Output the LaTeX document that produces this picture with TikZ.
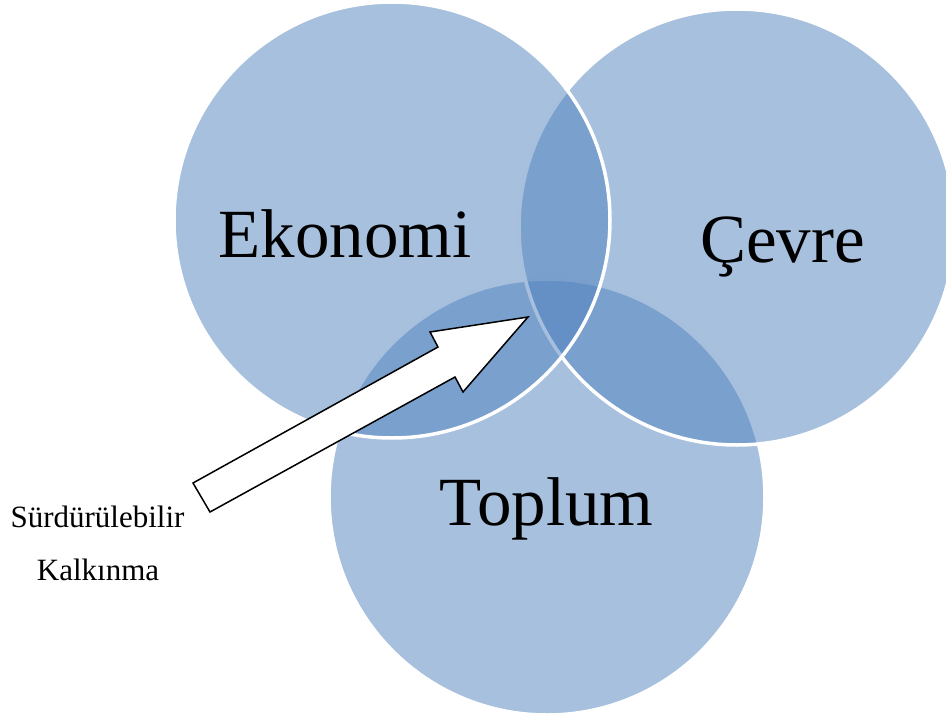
\documentclass[tikz,border=0pt]{standalone}
\usepackage{fontspec}
\setmainfont{Liberation Serif}
\definecolor{vennblue}{RGB}{79,129,189}
\begin{document}
\begin{tikzpicture}[x=1pt,y=-1pt,
  venn/.style={circle, minimum size=436pt, inner sep=0pt, fill=vennblue, fill opacity=0.5, draw=white, line width=3.5pt},
  biglabel/.style={anchor=base, font=\fontsize{69}{80}\selectfont, inner sep=0pt},
  smalllabel/.style={anchor=base, font=\fontsize{31}{36}\selectfont, inner sep=0pt},
  blockarrow/.style={fill=white, draw=black, line width=1.5pt, line join=miter}]
\useasboundingbox (0,0) rectangle (946,718);
\clip (0,0) rectangle (946,718);
% circles (drawn bottom to top)
\node[venn] (toplum) at (547,497) {};
\node[venn] (cevre) at (737,227) {};
\node[venn] (ekonomi) at (392,220) {};
% labels
\node[biglabel] (ekonomiL) at (345,257) {Ekonomi};
\node[biglabel] (cevreL) at (782.5,262) {Çevre};
\node[biglabel] (toplumL) at (546.5,525) {Toplum};
% block arrow
\coordinate (tailA) at (193,483);
\coordinate (tailB) at (210,512);
\coordinate (tip) at (528,317);
\draw[blockarrow] (tailA) -- (438,347) -- (430,332) -- (tip) -- (463,392) -- (455,377) -- (tailB) -- cycle;
% arrow label
\node[smalllabel] (sd1) at (97.5,527) {Sürdürülebilir};
\node[smalllabel] (sd2) at (98,580) {Kalkınma};
\end{tikzpicture}
\end{document}
